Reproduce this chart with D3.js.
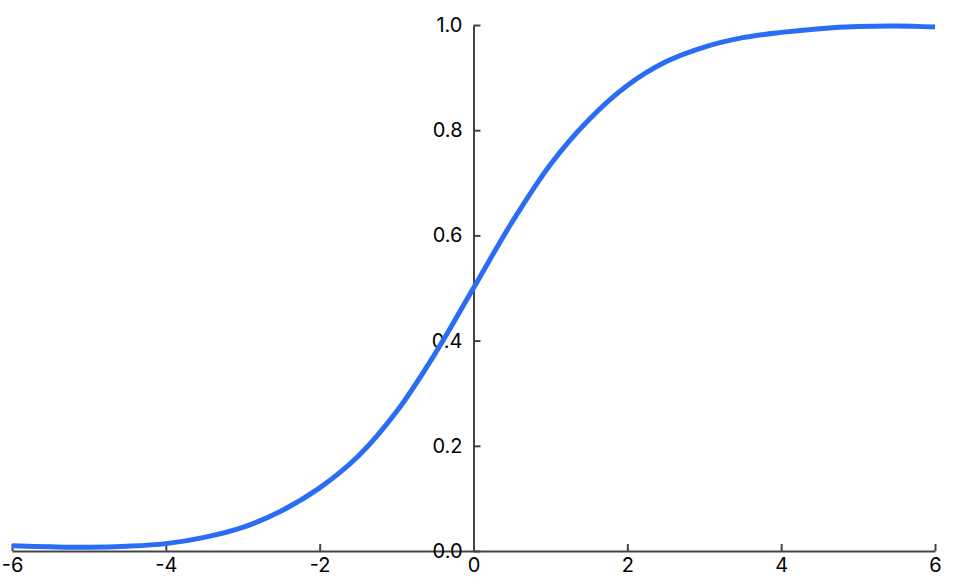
<!DOCTYPE html>
<html>
<head>
<meta charset="utf-8">
<script src="https://cdn.jsdelivr.net/npm/d3@7"></script>
<style>
  html, body { margin: 0; padding: 0; background: #fff; }
  svg text { font-family: Inter, "Open Sans", sans-serif; }
</style>
</head>
<body>
<svg id="chart" width="955" height="585"></svg>
<script>
const xValues = [-6, -5.5, -5, -4.5, -4, -3.5, -3, -2.5, -2, -1.5, -1, -0.5, 0, 0.5, 1, 1.5, 2, 2.5, 3, 3.5, 4, 4.5, 5, 5.5, 6];
const yValues = [0.010, 0.008, 0.007, 0.009, 0.014, 0.026, 0.045, 0.076, 0.120, 0.180, 0.265, 0.375, 0.500, 0.625, 0.735, 0.820, 0.885, 0.930, 0.958, 0.976, 0.986, 0.993, 0.997, 0.998, 0.996];
const xTicks = [-6, -4, -2, 0, 2, 4, 6];
const yTicks = [0, 0.2, 0.4, 0.6, 0.8, 1.0];

const svg = d3.select("#chart");
const x = d3.scaleLinear().domain([-6, 6]).range([12, 935]);
const y = d3.scaleLinear().domain([0, 1]).range([551, 25]);

const axisColor = "#444";

const xAxis = svg.append("g")
  .attr("transform", `translate(0,${y(0)})`)
  .call(d3.axisBottom(x).tickValues(xTicks).tickFormat(d => String(d))
    .tickSizeInner(-7).tickSizeOuter(0).tickPadding(7));

const yAxis = svg.append("g")
  .attr("transform", `translate(${x(0)},0)`)
  .call(d3.axisLeft(y).tickValues(yTicks).tickFormat(d3.format(".1f"))
    .tickSizeInner(-7).tickSizeOuter(0).tickPadding(11));

[xAxis, yAxis].forEach(g => {
  g.selectAll("path.domain").attr("stroke", axisColor).attr("stroke-width", 2);
  g.selectAll(".tick line").attr("stroke", axisColor).attr("stroke-width", 2);
  g.selectAll("text").attr("fill", "#000").style("font-size", "20px").attr("font-family", null);
});

const line = d3.line()
  .x((d, i) => x(xValues[i]))
  .y(d => y(d))
  .curve(d3.curveCatmullRom.alpha(0.5));

svg.append("path")
  .datum(yValues)
  .attr("fill", "none")
  .attr("stroke", "#2a6df4")
  .attr("stroke-width", 5)
  .attr("stroke-linecap", "butt")
  .attr("d", line);
</script>
</body>
</html>
